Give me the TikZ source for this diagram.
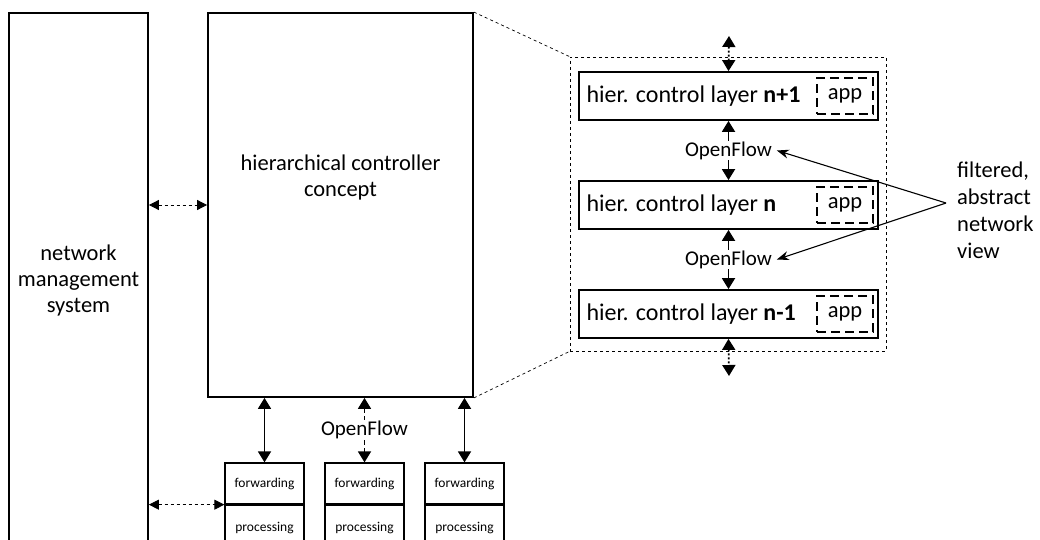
\documentclass[tikz,border=0pt]{standalone}
\usepackage{fontspec}
\setmainfont{Carlito}
\usetikzlibrary{arrows.meta,positioning}

\begin{document}
\begin{tikzpicture}[x=1pt,y=-1pt,
    box/.style={draw,line width=1.8pt,inner sep=0pt},
    layerbox/.style={box,minimum width=299pt,minimum height=48pt},
    appbox/.style={draw,line width=1.6pt,dash pattern=on 9pt off 5pt,inner sep=0pt,
      minimum width=56pt,minimum height=36pt,font=\fontsize{22.5}{26}\selectfont},
    unitbox/.style={draw,line width=1.3pt,inner sep=0pt,minimum width=79pt,
      font=\fontsize{13.5}{15}\selectfont},
    lbl/.style={font=\fontsize{22.5}{26}\selectfont},
    oflbl/.style={font=\fontsize{21}{24}\selectfont,fill=white,inner sep=1pt},
    link/.style={line width=1.8pt,{Triangle[length=11pt,width=13pt]}-{Triangle[length=11pt,width=13pt]}},
    mgmt/.style={dashed,line width=0.8pt,{Triangle[length=10pt,width=10pt]}-{Triangle[length=10pt,width=10pt]}},
    hint/.style={line width=1.1pt,-{Stealth[length=12pt,width=9pt]}},
  ]
  \useasboundingbox (0,0) rectangle (1040,540);
  \clip (0,0) rectangle (1040,540);

  % management system
  \node[box,minimum width=139pt,minimum height=535pt] (nms) at (78.5,280.5) {};
  \node[lbl,align=center] (nmstxt) at (78.5,280) {network\\management\\system};

  % controller concept
  \node[box,minimum width=265pt,minimum height=384pt] (hcc) at (340.5,205) {};
  \node[lbl,align=center] (hcctxt) at (340.5,178) {hierarchical controller\\concept};

  % zoomed view
  \node[draw,dashed,line width=0.7pt,minimum width=316pt,minimum height=294pt] (zoom) at (728,204) {};
  \draw[dashed,line width=0.7pt] (hcc.north east) -- (zoom.north west);
  \draw[dashed,line width=0.7pt] (hcc.south east) -- (zoom.south west);

  % layers
  \node[layerbox] (l1) at (728.5,96) {};
  \node[layerbox] (l2) at (728.5,205) {};
  \node[layerbox] (l3) at (728.5,314) {};
  \node[lbl,anchor=west,font=\fontsize{24}{28}\selectfont] (l1txt) at ([xshift=5pt]l1.west) {hier. control layer \textbf{n+1}};
  \node[lbl,anchor=west,font=\fontsize{24}{28}\selectfont] (l2txt) at ([xshift=5pt]l2.west) {hier. control layer \textbf{n}};
  \node[lbl,anchor=west,font=\fontsize{24}{28}\selectfont] (l3txt) at ([xshift=5pt]l3.west) {hier. control layer \textbf{n-1}};
  \node[appbox] (app1) at (845,96) {app};
  \node[appbox] (app2) at (845,205) {app};
  \node[appbox] (app3) at (845,314) {app};

  % layer links
  \coordinate (topend) at (729,36);
  \coordinate (botend) at (729,376);
  \draw[link,dash pattern=on 2pt off 2pt] (topend) -- (l1.north);
  \draw[link] (l1.south) -- node[oflbl] (of1) {OpenFlow} (l2.north);
  \draw[link] (l2.south) -- node[oflbl] (of2) {OpenFlow} (l3.north);
  \draw[link,dash pattern=on 2pt off 2pt] (l3.south) -- (botend);

  % network view
  \node[lbl,anchor=north west,align=left,inner sep=0pt,font=\fontsize{22.5}{27}\selectfont] (view) at (957,162) {filtered,\\abstract\\network\\view};
  \coordinate (fork) at (946,203);
  \draw[hint] (fork) -- ([xshift=3pt]of1.east);
  \draw[hint] (fork) -- ([xshift=3pt]of2.east);

  % forwarding units
  \foreach \i/\x in {1/264.5,2/364.5,3/464.5} {
    \node[unitbox,minimum height=41pt] (fw\i) at (\x,483.5) {forwarding};
    \node[unitbox,minimum height=46pt,below=0pt of fw\i] (pr\i) {processing};
  }
  \draw[link] (hcc.south -| fw1.north) -- (fw1.north);
  \draw[link,dash pattern=on 5pt off 3pt] (hcc.south -| fw2.north) -- node[oflbl] (of3) {OpenFlow} (fw2.north);
  \draw[link] (hcc.south -| fw3.north) -- (fw3.north);

  % management links
  \draw[mgmt] (nms.east |- hcc.west) -- (hcc.west);
  \draw[mgmt] (nms.east |- fw1.south west) -- (fw1.south west);
\end{tikzpicture}
\end{document}
